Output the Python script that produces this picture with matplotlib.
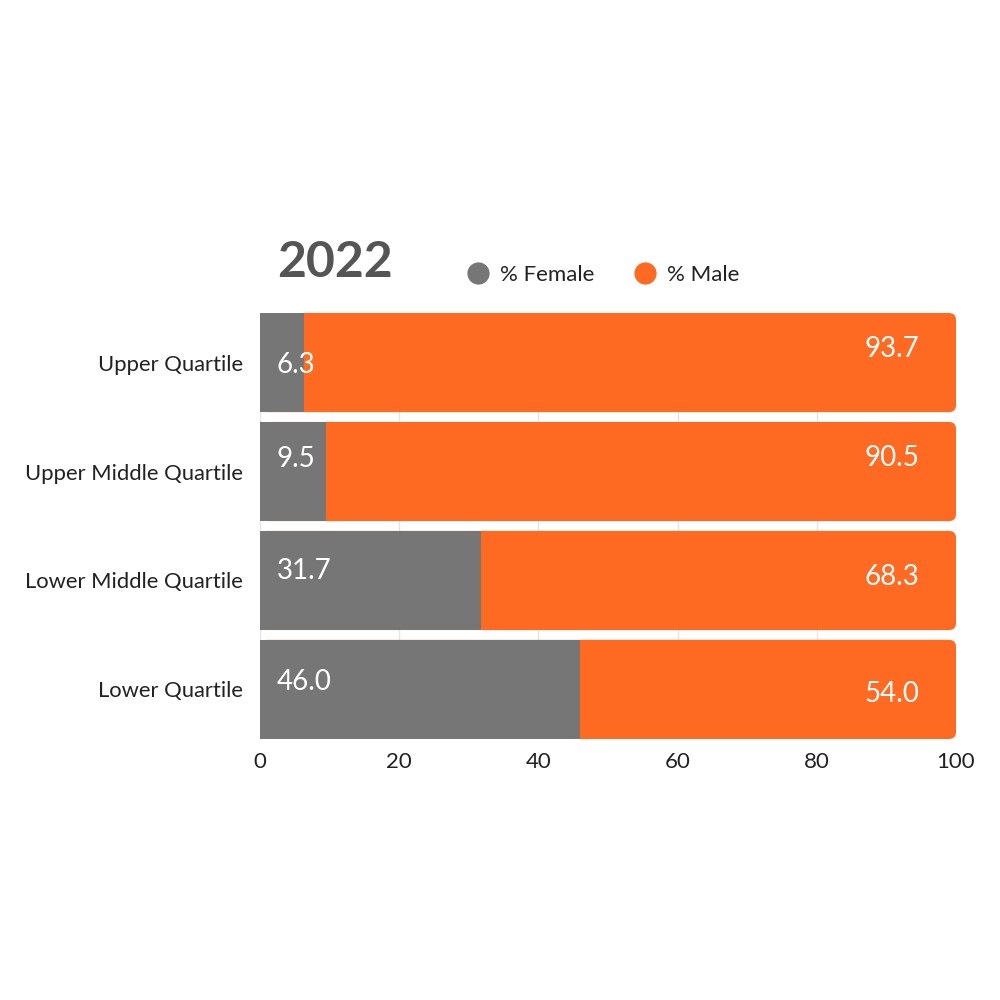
import matplotlib
matplotlib.use('Agg')
import matplotlib.pyplot as plt
from matplotlib.patches import FancyBboxPatch
from matplotlib.lines import Line2D

plt.rcParams['font.family'] = ['Lato', 'DejaVu Sans']

categories = ["Upper Quartile", "Upper Middle Quartile", "Lower Middle Quartile", "Lower Quartile"]
female = [6.3, 9.5, 31.7, 46.0]
male = [93.7, 90.5, 68.3, 54.0]
x_ticks = [0, 20, 40, 60, 80, 100]
title = "2022"

# label vertical nudges in pixels (the source chart places them unevenly)
female_dy = [-2.5, 12.5, 9.5, 7.5]
male_dy = [13.5, 13.5, 3.5, -4.5]

gray = "#767676"
orange = "#FF6A22"

fig = plt.figure(figsize=(10, 10), dpi=100)
ax = fig.add_axes([0.26, 0.261, 0.696, 0.426])

ypos = list(range(len(categories)))[::-1]
bar_h = 0.91
ax.barh(ypos, female, height=bar_h, color=gray, zorder=3)
male_bars = ax.barh(ypos, male, left=female, height=bar_h, color=orange, zorder=2)

ax.set_xlim(0, 100)
ax.set_ylim(-bar_h / 2, len(categories) - 1 + bar_h / 2)
ax.set_xticks(x_ticks)
ax.set_yticks(ypos)
ax.set_yticklabels(categories)
ax.tick_params(axis='both', length=0, labelsize=16, colors="#222222")
ax.tick_params(axis='y', labelsize=15.8, pad=12)
ax.tick_params(axis='x', pad=9)
for s in ax.spines.values():
    s.set_visible(False)
ax.grid(axis='x', color="#e4e4e4", linewidth=1, zorder=0)
ax.set_axisbelow(True)

# rounded right ends on the orange bars: redraw them in pixel space
fig.canvas.draw()
r = 7
for rect in male_bars:
    bb = rect.get_window_extent()
    x0 = ax.transData.transform((0, 0))[0]
    patch = FancyBboxPatch((x0, bb.y0), bb.x1 - x0, bb.height,
                           boxstyle=f"round,pad=0,rounding_size={r}",
                           transform=None, facecolor=orange, edgecolor='none',
                           zorder=2)
    ax.add_artist(patch)
    rect.set_visible(False)

for i, y in enumerate(ypos):
    ax.annotate(f"{female[i]:.1f}", (0, y), xytext=(17, female_dy[i]),
                textcoords='offset pixels', ha='left', va='center',
                color='white', fontsize=20, zorder=5)
    ax.annotate(f"{male[i]:.1f}", (female[i] + male[i], y), xytext=(-37, male_dy[i]),
                textcoords='offset pixels', ha='right', va='center',
                color='white', fontsize=20, zorder=5)

fig.text(0.277, 1 - 0.277, title, ha='left', va='baseline', fontsize=36,
         fontweight='bold', color="#555555")

handles = [Line2D([], [], marker='o', linestyle='none', markersize=16,
                  markerfacecolor=gray, markeredgecolor='none'),
           Line2D([], [], marker='o', linestyle='none', markersize=16,
                  markerfacecolor=orange, markeredgecolor='none')]
fig.legend(handles, ["% Female", "% Male"], loc='center left',
           bbox_to_anchor=(0.4669, 0.725), ncol=2, frameon=False,
           fontsize=16, handlelength=1.0, handletextpad=0.49,
           columnspacing=1.8, borderpad=0, borderaxespad=0,
           labelcolor="#222222")

fig.savefig("out.png", dpi=100)
